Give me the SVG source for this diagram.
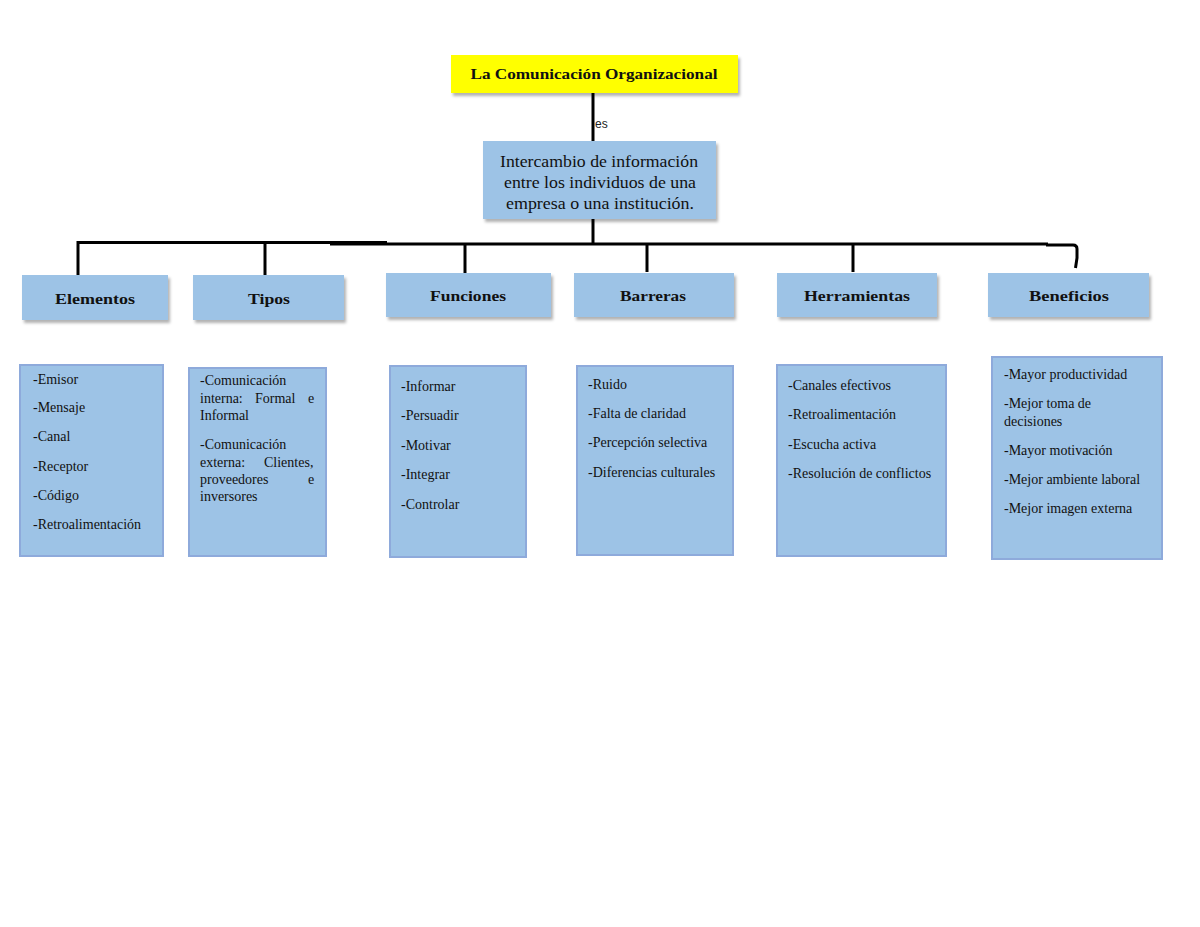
<svg xmlns="http://www.w3.org/2000/svg" width="1200" height="927" viewBox="0 0 1200 927">
<defs>
<filter id="sh" x="-10%" y="-20%" width="130%" height="150%">
<feDropShadow dx="2" dy="3" stdDeviation="1.5" flood-color="#000" flood-opacity="0.3"/>
</filter>
<style>
.title{fill:#FFFF00;filter:url(#sh)}
.hdr{fill:#9DC3E6;filter:url(#sh)}
.lst{fill:#9DC3E6;stroke:#8EAADB;stroke-width:2}
.t{font-family:"Liberation Serif","DejaVu Serif",serif;fill:#111}
.b{font-weight:bold;font-size:15px;text-anchor:middle}
.m{font-size:16px;text-anchor:middle}
.s{font-size:14px}
.ln{stroke:#000;stroke-width:3;fill:none}
</style>
</defs>
<rect width="1200" height="927" fill="#fff"/>
<g id="connectors">
<line class="ln" x1="593" y1="93" x2="593" y2="141"/>
<text x="595" y="128" font-family="Liberation Sans, Arial, sans-serif" font-size="12" fill="#222">es</text>
<line class="ln" x1="593" y1="219" x2="593" y2="244"/>
<line class="ln" x1="78" y1="242.5" x2="387" y2="242.5"/>
<line class="ln" x1="330" y1="244" x2="1048" y2="244"/>
<path class="ln" d="M1046,245 H1073 Q1077,245 1077,249 V258 L1075.5,268"/>
<line class="ln" x1="78" y1="241" x2="78" y2="275"/>
<line class="ln" x1="265" y1="242" x2="265" y2="275"/>
<line class="ln" x1="465" y1="243" x2="465" y2="273"/>
<line class="ln" x1="647" y1="244" x2="647" y2="272"/>
<line class="ln" x1="853" y1="244" x2="853" y2="272"/>
</g>
<g id="title">
<rect class="title" x="451" y="55" width="287" height="38"/>
<text class="t b" x="594" y="79" textLength="247" lengthAdjust="spacingAndGlyphs">La Comunicación Organizacional</text>
</g>
<g id="definicion">
<rect class="hdr" x="483" y="141" width="233" height="78"/>
<text class="t m" x="599" y="167" textLength="198" lengthAdjust="spacingAndGlyphs">Intercambio de información</text>
<text class="t m" x="600" y="188" textLength="192" lengthAdjust="spacingAndGlyphs">entre los individuos de una</text>
<text class="t m" x="600" y="209" textLength="188" lengthAdjust="spacingAndGlyphs">empresa o una institución.</text>
</g>
<g id="elementos">
<rect class="hdr" x="22" y="275" width="146" height="45"/>
<text class="t b" x="95" y="304" textLength="80" lengthAdjust="spacingAndGlyphs">Elementos</text>
</g>
<g id="tipos">
<rect class="hdr" x="193" y="275" width="151" height="45"/>
<text class="t b" x="269" y="304" textLength="42" lengthAdjust="spacingAndGlyphs">Tipos</text>
</g>
<g id="funciones">
<rect class="hdr" x="386" y="273" width="165" height="44"/>
<text class="t b" x="468" y="301" textLength="76" lengthAdjust="spacingAndGlyphs">Funciones</text>
</g>
<g id="barreras">
<rect class="hdr" x="574" y="273" width="160" height="44"/>
<text class="t b" x="653" y="301" textLength="66" lengthAdjust="spacingAndGlyphs">Barreras</text>
</g>
<g id="herramientas">
<rect class="hdr" x="777" y="273" width="160" height="44"/>
<text class="t b" x="857" y="301" textLength="106" lengthAdjust="spacingAndGlyphs">Herramientas</text>
</g>
<g id="beneficios">
<rect class="hdr" x="988" y="273" width="161" height="44"/>
<text class="t b" x="1069" y="301" textLength="80" lengthAdjust="spacingAndGlyphs">Beneficios</text>
</g>
<g id="lista-elementos">
<rect class="lst" x="20" y="365" width="143" height="191"/>
<text class="t s" x="33" y="384">-Emisor</text>
<text class="t s" x="33" y="412">-Mensaje</text>
<text class="t s" x="33" y="441">-Canal</text>
<text class="t s" x="33" y="471">-Receptor</text>
<text class="t s" x="33" y="500">-Código</text>
<text class="t s" x="33" y="529">-Retroalimentación</text>
</g>
<g id="lista-tipos">
<rect class="lst" x="189" y="368" width="137" height="188"/>
<text class="t s" x="200" y="385">-Comunicación</text>
<text class="t s" y="403"><tspan x="200">interna:</tspan> <tspan x="255">Formal</tspan> <tspan x="308">e</tspan></text>
<text class="t s" x="200" y="420">Informal</text>
<text class="t s" x="200" y="449">-Comunicación</text>
<text class="t s" y="467"><tspan x="200">externa:</tspan> <tspan x="264">Clientes,</tspan></text>
<text class="t s" y="484"><tspan x="200">proveedores</tspan> <tspan x="308">e</tspan></text>
<text class="t s" x="200" y="501">inversores</text>
</g>
<g id="lista-funciones">
<rect class="lst" x="390" y="366" width="136" height="191"/>
<text class="t s" x="401" y="391">-Informar</text>
<text class="t s" x="401" y="420">-Persuadir</text>
<text class="t s" x="401" y="450">-Motivar</text>
<text class="t s" x="401" y="479">-Integrar</text>
<text class="t s" x="401" y="509">-Controlar</text>
</g>
<g id="lista-barreras">
<rect class="lst" x="577" y="366" width="156" height="189"/>
<text class="t s" x="588" y="389">-Ruido</text>
<text class="t s" x="588" y="418">-Falta de claridad</text>
<text class="t s" x="588" y="447">-Percepción selectiva</text>
<text class="t s" x="588" y="477">-Diferencias culturales</text>
</g>
<g id="lista-herramientas">
<rect class="lst" x="777" y="365" width="169" height="191"/>
<text class="t s" x="788" y="390">-Canales efectivos</text>
<text class="t s" x="788" y="419">-Retroalimentación</text>
<text class="t s" x="788" y="449">-Escucha activa</text>
<text class="t s" x="788" y="478">-Resolución de conflictos</text>
</g>
<g id="lista-beneficios">
<rect class="lst" x="992" y="357" width="170" height="202"/>
<text class="t s" x="1004" y="379">-Mayor productividad</text>
<text class="t s" x="1004" y="408">-Mejor toma de</text>
<text class="t s" x="1004" y="426">decisiones</text>
<text class="t s" x="1004" y="455">-Mayor motivación</text>
<text class="t s" x="1004" y="484">-Mejor ambiente laboral</text>
<text class="t s" x="1004" y="513">-Mejor imagen externa</text>
</g>
</svg>
